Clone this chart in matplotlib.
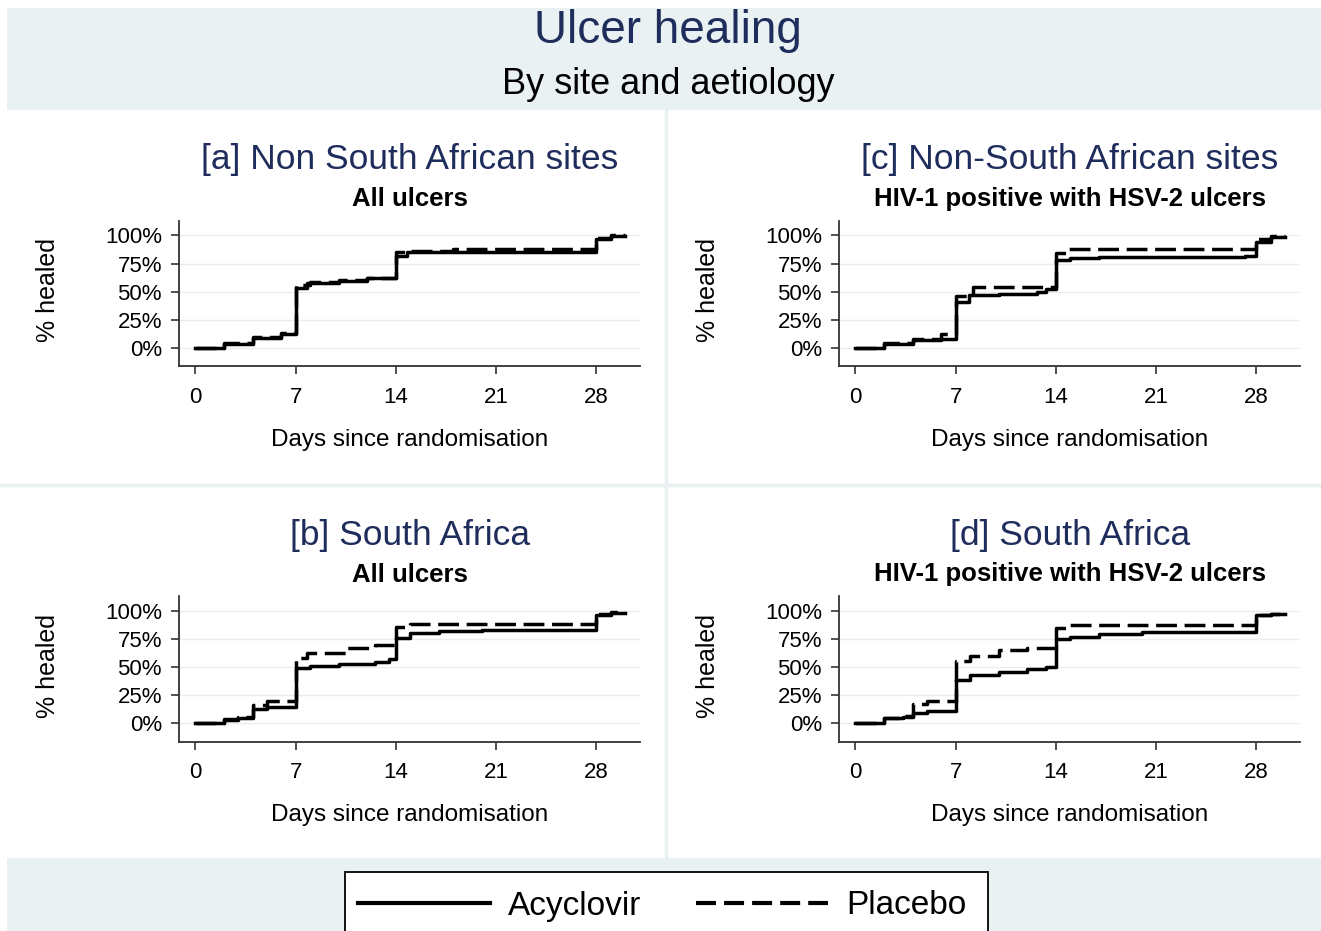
import matplotlib
matplotlib.use("Agg")
import matplotlib.pyplot as plt
from matplotlib.patches import Rectangle
from matplotlib.lines import Line2D

plt.rcParams['font.family'] = ['Liberation Sans', 'DejaVu Sans']
plt.rcParams['lines.scale_dashes'] = False

W, H = 1321, 931

# Kaplan-Meier style step data: day of each step and % healed after it
a_acy_days = [0, 2, 4, 6, 7, 7.8, 10, 12, 14, 14.8, 28, 29, 30]
a_acy_pct = [0, 3.5, 9, 12, 53, 58, 59.5, 62, 82, 85, 97, 99.5, 99.5]
a_pla_days = [0, 2, 4, 6, 7, 8, 10, 12, 14, 15, 18, 28, 29, 30]
a_pla_pct = [0, 4, 9.5, 13.5, 56, 59, 60.5, 62, 85, 86, 88, 97.5, 100, 100]

b_acy_days = [0, 2, 3, 4, 5, 7, 8, 10, 12.5, 13.5, 14, 15, 17, 20, 28, 29, 30]
b_acy_pct = [0, 3.5, 5, 13, 15, 49, 51, 53, 55, 57, 76, 80, 82, 83, 96.5, 98, 98]
b_pla_days = [0, 2, 3, 4, 5, 7, 7.8, 10.5, 12.5, 14, 15, 28, 29, 30]
b_pla_pct = [0, 4, 6, 16, 20, 58, 63, 67, 70, 86, 88, 97, 99, 99]

c_acy_days = [0, 2, 4, 6, 7, 7.9, 10, 12.7, 13.3, 14, 15, 17, 27.2, 28, 29, 30]
c_acy_pct = [0, 3.5, 7, 8, 41, 47, 48, 49.5, 52, 78, 80, 81, 82, 94.5, 98.5, 98.5]
c_pla_days = [0, 2, 4, 6, 7, 8.2, 14, 14.8, 28, 29, 30]
c_pla_pct = [0, 4, 8, 12, 46, 54, 84, 88, 97, 99, 99]

d_acy_days = [0, 2, 3.3, 4, 5, 7, 8, 10, 12, 13.3, 14, 15, 17, 20, 28, 29, 30]
d_acy_pct = [0, 5, 6, 9, 11, 38.5, 43, 46, 48, 50, 75, 77, 79.5, 81, 96, 97.5, 97.5]
d_pla_days = [0, 2, 3.3, 4, 5, 7, 8, 10, 12, 14, 15, 28, 29, 30]
d_pla_pct = [0, 5, 6.5, 17.5, 20, 55.5, 60, 65.5, 67, 85, 87.5, 96, 97.5, 97.5]

panels = [
    ("[a] Non South African sites", "All ulcers", a_acy_days, a_acy_pct, a_pla_days, a_pla_pct, 0, 0),
    ("[b] South Africa", "All ulcers", b_acy_days, b_acy_pct, b_pla_days, b_pla_pct, 0, 1),
    ("[c] Non-South African sites", "HIV-1 positive with HSV-2 ulcers", c_acy_days, c_acy_pct, c_pla_days, c_pla_pct, 1, 0),
    ("[d] South Africa", "HIV-1 positive with HSV-2 ulcers", d_acy_days, d_acy_pct, d_pla_days, d_pla_pct, 1, 1),
]

x_ticks = [0, 7, 14, 21, 28]
y_ticks = [0, 25, 50, 75, 100]
y_labels = ["0%", "25%", "50%", "75%", "100%"]

navy = '#1f2d5c'
band = '#eaf1f3'
dash = (0, (15, 5.5))


def fx(px):
    return px / W


def fy(py):
    return 1 - py / H


fig = plt.figure(figsize=(W / 100, H / 100), dpi=100)
fig.patch.set_facecolor('white')

# background bands and panel separators
fig.patches.append(Rectangle((fx(7), fy(110)), fx(W - 7), 102 / H, transform=fig.transFigure,
                             facecolor=band, edgecolor='none', zorder=-5))
fig.patches.append(Rectangle((fx(7), 0), fx(W - 7), (H - 858) / H, transform=fig.transFigure,
                             facecolor=band, edgecolor='none', zorder=-5))
fig.lines.append(Line2D([fx(666), fx(666)], [fy(858), fy(110)], transform=fig.transFigure,
                        color='#e9f0f1', lw=2.5, zorder=-4))
fig.lines.append(Line2D([0, 1], [fy(485), fy(485)], transform=fig.transFigure,
                        color='#e9f0f1', lw=2.5, zorder=-4))

fig.text(fx(668), fy(31), "Ulcer healing", fontsize=33, color=navy, ha='center', va='center')
fig.text(fx(668), fy(85), "By site and aetiology", fontsize=26, color='black', ha='center', va='center')

handles = None
for title, sub, ad, ap, pd_, pp, col, row in panels:
    dx = 660 * col
    dy = 375.5 * row
    left, right = 178.6 + dx, 640 + dx
    top, bottom = 220.7 + dy, 366 + dy
    ax = fig.add_axes([fx(left), fy(bottom), fx(right - left), (bottom - top) / H])
    ax.set_facecolor('none')
    l1, = ax.step(ad, ap, where='post', color='black', lw=2.5, label='Acyclovir')
    l2, = ax.step(pd_, pp, where='post', color='black', lw=2.5, linestyle=dash, label='Placebo')
    handles = [l1, l2]
    ax.set_xlim(-1.18, 31.04)
    ax.set_ylim(-16, 113)
    ax.set_xticks(x_ticks)
    ax.set_yticks(y_ticks)
    ax.set_yticklabels(y_labels)
    for yv in y_ticks:
        ax.axhline(yv, color='#ececec', lw=1, zorder=0)
    for s in ['top', 'right']:
        ax.spines[s].set_visible(False)
    for s in ['left', 'bottom']:
        ax.spines[s].set_color('#333333')
        ax.spines[s].set_linewidth(1.3)
    ax.tick_params(axis='y', direction='out', length=6, width=1.2, color='#333333', pad=6, labelsize=16)
    ax.tick_params(axis='x', direction='out', length=6, width=1.2, color='#333333', pad=9, labelsize=16)

    cx = 410 + dx
    fig.text(fx(cx), fy(160 + dy), title, fontsize=25.5, color=navy, ha='center', va='center')
    fig.text(fx(cx), fy(199 + dy), sub, fontsize=18.5, fontweight='bold', color='black', ha='center', va='center')
    fig.text(fx(cx), fy(440 + dy), "Days since randomisation", fontsize=17.5, ha='center', va='center')
    fig.text(fx(48 + dx), fy(290 + dy), "% healed", fontsize=18, rotation=90, ha='center', va='center')

# legend box runs off the bottom edge, as in the original
fig.patches.append(Rectangle((fx(345), fy(950)), fx(988 - 345), (950 - 872) / H, transform=fig.transFigure,
                             facecolor='white', edgecolor='black', lw=1.3, zorder=1))
leg_handles = [Line2D([], [], color='black', lw=3),
               Line2D([], [], color='black', lw=3, linestyle=(0, (14.4, 5.8)))]
leg = fig.legend(handles=leg_handles, labels=[h.get_label() for h in handles],
                 loc='center left', bbox_to_anchor=(fx(358), fy(906)),
                 ncol=2, fontsize=24, frameon=False,
                 handlelength=3.95, handletextpad=0.55, columnspacing=1.65, borderpad=0,
                 borderaxespad=0)
leg.set_zorder(2)

fig.savefig("out.png", dpi=100)
